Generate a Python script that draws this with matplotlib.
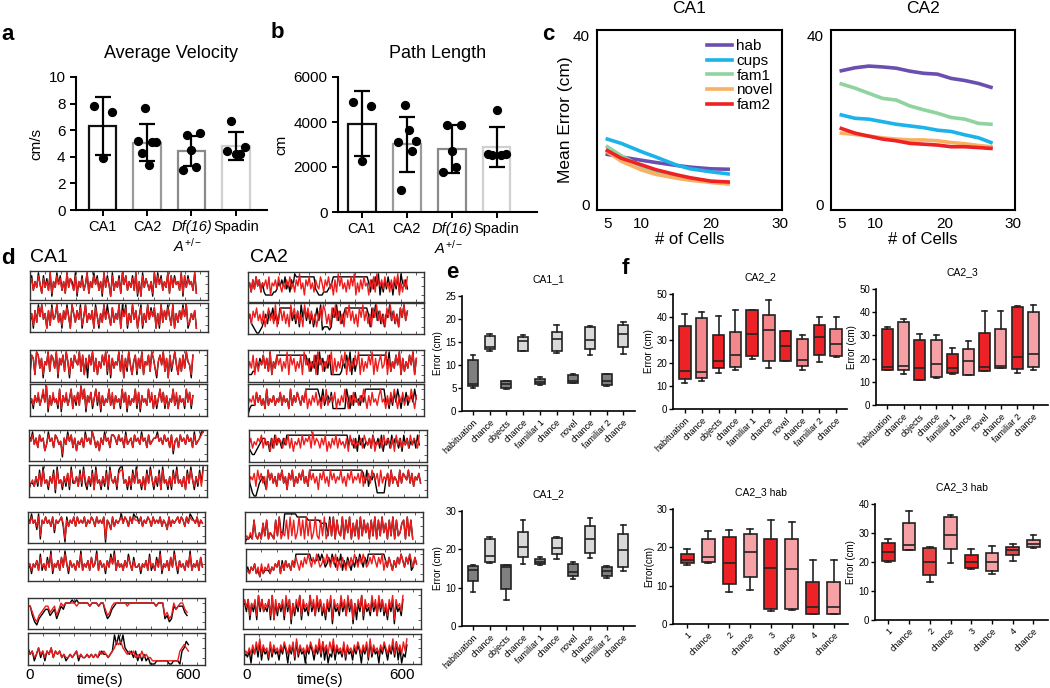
import numpy as np
import matplotlib
matplotlib.use('Agg')
import matplotlib.pyplot as plt

plt.rcParams['font.family'] = ['Liberation Sans', 'DejaVu Sans']
plt.rcParams['mathtext.fontset'] = 'custom'
plt.rcParams['mathtext.it'] = 'Liberation Sans:italic'
plt.rcParams['mathtext.rm'] = 'Liberation Sans'

# ---------------- data ----------------
groups = ['CA1', 'CA2', 'Df(16)', 'Spadin']
group_edge = ['#111111', '#9a9a9a', '#8a8a8a', '#d0d0d0']

vel_mean = [6.3, 5.05, 4.45, 4.8]
vel_sd = [2.2, 1.4, 1.15, 1.05]
vel_points = [[7.8, 3.9, 7.4], [5.2, 4.3, 7.7, 3.4, 5.1, 5.1],
              [3.0, 5.65, 4.5, 3.2, 5.8], [4.4, 6.7, 4.2, 4.2, 4.7]]

path_mean = [3926, 3007, 2785, 2889]
path_sd = [1440, 1220, 1060, 880]
path_points = [[4890, 2270, 4700], [3100, 1000, 4740, 3650, 2700, 3150],
               [1780, 3850, 2700, 2000, 3850], [2600, 2520, 4520, 2520, 2600]]

cells_ca1 = [5, 7, 10, 12, 15, 17, 20, 22.5]
cells_ca2 = [5, 7, 9, 11, 13, 15, 17, 19, 21, 23, 25, 26.8]
conds = ['hab', 'cups', 'fam1', 'novel', 'fam2']
cond_colors = ['#6a4fb0', '#1cb3ea', '#8fd3a0', '#f8b062', '#ec2224']
err_ca1 = {
    'hab':   [11.9, 11.3, 10.5, 10.0, 9.3, 8.9, 8.5, 8.4],
    'cups':  [15.5, 14.5, 12.5, 11.3, 9.4, 8.5, 7.8, 7.3],
    'fam1':  [13.7, 11.6, 9.0, 8.0, 6.7, 6.1, 5.5, 5.1],
    'novel': [12.5, 10.3, 8.2, 7.2, 6.3, 5.8, 5.3, 4.9],
    'fam2':  [12.8, 11.0, 9.4, 8.3, 7.1, 6.4, 5.6, 5.4],
}
err_ca2 = {
    'hab':   [31.6, 32.3, 32.7, 32.5, 32.2, 31.5, 31.0, 30.8, 29.8, 29.3, 28.6, 27.7],
    'cups':  [21.2, 20.4, 20.2, 19.6, 19.0, 18.6, 18.2, 17.6, 17.3, 16.5, 15.8, 14.7],
    'fam1':  [28.5, 27.5, 26.3, 25.1, 24.7, 23.3, 22.4, 21.6, 20.6, 20.2, 19.2, 19.0],
    'novel': [16.9, 16.6, 16.2, 15.8, 15.5, 15.3, 15.3, 15.1, 14.7, 14.4, 14.0, 13.7],
    'fam2':  [18.0, 16.9, 16.2, 15.5, 15.1, 14.5, 14.3, 14.1, 13.7, 13.7, 13.5, 13.3],
}

# decoded (red) vs actual (black) position traces, one digit per sample (0-9)
ca1_red = [
    "5736485274639264857362947538264735926485736294751836472958364739261847536294857364928475639284756392",
    "4627385946172845936274851963748259364718526394752836491758263947158263947581629374852916374859236471",
    "3872984726593874927583962748659382748593726485938274659381749526837492658397426859371846952738496528",
    "4536473584926374538264735826473958264735847263548372645384726354837264538472635847362548372645384736",
    "7685748673586748756275868473657486759746375867488758674856748675867485677867586748367486758674856789",
    "3453647384536472845364738546374853647284536473854637884536374845362748536472845363748453627485364738",
    "7686758276867584767861757685867685768758676817648576786875868776857687586768576485767868758687768576",
    "4535463745364835463748536453648354637458364536475836453647536445354637453648354637485364536483546374",
    "7753245677567468788888788888788878864578888887888888888888788845348678865",
    "43423534243524342322323423223232324343234576754343423242322111111111111145654",
]
ca1_black = [
    "5836495284739164958362947639164835926495836194851936482958364839161947536194958364928485639184856392",
    "3617395946172945936174951963749159364719516394952836491959163947159163948581619374952916374959136471",
    "2872984716593874917583961748659382718593726485928174659381739526827492658397416859371836952738496518",
    "3526463574916364528164635826373958164725837163548362645284716354827164538462625847262548362645284726",
    "8695748673596748756175968473657496759746375967488758674956748675967485677967586748267486758674956799",
    "2443638394526481945263729446383942638294526382954628994526284945262849526382945262849453628495263849",
    "8696749176867583767850857685867685768758676807648576796875869886857687586768576485767868758698768576",
    "3525463835374925463749526453649354637459364526485936453648537445254638353749254637495264536493546374",
    "7742134566456357688898988888788878853467888888888888888888788834237677754",
    "53413524143524342312323413223232323433234969695434241313120001111110011104576",
]
ca1_end = [645, 645, 635, 635, 675, 675, 680, 680, 620, 625]

ca2_red = [
    "5637485736574826574853647584637594627584637548637584627395846374859263748562748396574856374859263748",
    "4637584637258463925847362958473629584736258497362859473628594736285947362859473628594736285947",
    "3648273658473926485736492857364829573648295736485927364859273648592736485927368459273648592736485927",
    "3546374635283546354736452836475364825364735264835647253648526374536485263745368452637485264735648526",
    "5746576847563748576475847365748576849576475836475847564738574657486574836574857647385746574857648",
    "4657385746285746375846275836475846385746275846385746584637584657483657486573846573846538476584736574",
    "1213172131627132172813271827138271827138217281372817328173816271827361728172836172817236718271",
    "2324352415243524354625364536475364758647586457586475836475364758647586457586475836475364758647586475",
    "6757365738574657382746573857264758375648573857463758275648573857264758375648573857463758275648",
    "3435363748364527364536475364728364536475364837463748364537264536475364728364536475364837463748",
]
ca2_black = [
    "5637485736322222334657584637598888888888884322233345688888888888888888888886374859263748562748396574",
    "4632100124637584638888888463729584736258491222128594736888888888888862859473626594736285947",
    "2223364758473926488888888888888888857364829573648222222364859273688888888888888888593648592736485927",
    "0233374635283546354736452836475364888888886483564722222222852637453648888888888884526374852647356485",
    "4322345677563748576475888888888888888888888888888888888888576473857465748657483657485764738574657485",
    "5310024564285746375846275836475846388888888888888888888888888888887483657411111573846538476584736574",
    "0112172131627132172833999999988888877777776666282817328173816271827361728172836172817236718271",
    "3424352314233324354626364536488888888866668686457586475836475364758647588888888886475364758647583475",
    "6647264628474547282636462747163648264538463747352647164537463747162648264537463747352647164537",
    "2324053627153416253415364053617253405364153627150326153426153415364053617253405364153627150326",
]
ca2_end = [625, 625, 660, 660, 660, 665, 650, 665, 620, 635]

task_labels = ['habituation', 'chance', 'objects', 'chance', 'familiar 1',
               'chance', 'novel', 'chance', 'familiar 2', 'chance']
hab_labels = ['1', 'chance', '2', 'chance', '3', 'chance', '4', 'chance']

# (whisker low, q1, median, q3, whisker high)
e1_stats = [(5.1, 5.4, 5.9, 11.0, 12.2), (13.0, 13.4, 14.0, 16.3, 16.7),
            (4.7, 5.1, 5.9, 6.5, 6.5), (13.0, 13.1, 15.2, 16.0, 16.5),
            (5.7, 5.9, 6.3, 7.0, 7.4), (12.7, 13.0, 15.6, 17.1, 18.6),
            (6.0, 6.1, 6.6, 7.8, 8.0), (12.2, 13.5, 15.4, 18.2, 18.4),
            (5.4, 5.6, 6.6, 8.0, 8.1), (12.4, 13.9, 16.7, 18.6, 19.3)]
e2_stats = [(9.0, 11.7, 14.6, 15.6, 15.8), (16.5, 16.8, 18.2, 22.6, 23.3),
            (6.7, 9.7, 15.4, 15.8, 15.9), (16.2, 18.0, 20.7, 24.6, 27.6),
            (16.0, 16.2, 16.8, 17.6, 18.0), (17.5, 18.8, 20.3, 22.9, 23.3),
            (12.2, 13.0, 14.0, 16.2, 16.7), (17.8, 19.0, 22.7, 26.2, 28.2),
            (12.5, 13.0, 14.3, 15.4, 15.6), (14.4, 15.5, 19.8, 23.9, 26.3)]
f1_stats = [(11.2, 13.0, 16.4, 36.1, 41.4), (12.3, 13.6, 16.0, 39.5, 42.1),
            (15.5, 18.0, 21.0, 32.2, 40.3), (16.8, 18.4, 23.6, 33.6, 43.0),
            (21.8, 22.9, 32.8, 43.0, 43.1), (18.0, 20.8, 34.5, 41.0, 47.3),
            (21.0, 21.0, 27.4, 33.8, 34.0), (16.9, 18.7, 21.5, 30.5, 32.2),
            (20.5, 23.3, 31.5, 36.5, 39.8), (22.8, 23.0, 28.3, 34.7, 40.0)]
f2_stats = [(15.0, 15.2, 16.5, 32.7, 33.5), (13.5, 15.3, 17.0, 35.6, 37.2),
            (10.7, 10.9, 16.0, 28.0, 30.7), (11.8, 12.2, 17.5, 28.0, 30.1),
            (13.4, 14.0, 16.0, 21.8, 24.7), (13.1, 13.1, 19.0, 24.0, 27.4),
            (14.5, 14.6, 16.5, 31.0, 40.5), (15.8, 16.0, 17.0, 32.7, 40.4),
            (13.7, 15.5, 20.8, 42.4, 42.8), (15.0, 16.3, 22.0, 40.3, 43.1)]
f3_stats = [(15.3, 15.9, 16.6, 18.2, 19.6), (15.8, 16.3, 17.4, 22.1, 24.3),
            (8.3, 10.5, 16.0, 22.8, 24.4), (8.8, 12.2, 18.8, 23.5, 24.7),
            (3.5, 3.8, 14.7, 22.2, 27.1), (3.6, 3.9, 14.3, 22.1, 26.5),
            (2.5, 2.6, 4.4, 11.0, 16.8), (2.5, 2.6, 4.4, 11.0, 16.8)]
f4_stats = [(19.9, 20.3, 23.3, 26.5, 28.0), (24.0, 24.2, 25.8, 33.3, 37.6),
            (13.2, 15.5, 19.9, 25.0, 25.1), (19.6, 24.5, 29.4, 35.4, 36.2),
            (17.5, 17.8, 20.1, 22.3, 24.4), (15.7, 16.9, 19.9, 23.2, 25.5),
            (20.5, 22.3, 24.0, 25.3, 26.1), (24.9, 25.2, 26.1, 27.6, 29.4)]

# ---------------- layout helpers ----------------
W, H = 1050, 688
fig = plt.figure(figsize=(W / 100, H / 100), dpi=100)


def rect(l, t, r, b):
    return [l / W, 1 - b / H, (r - l) / W, (b - t) / H]


def ftext(x, y, s, **kw):
    fig.text(x / W, 1 - y / H, s, **kw)


# ---------------- a / b : bar charts ----------------
def bar_panel(r, means, sds, points, ylim, yticks, title, ylabel, xlim):
    ax = fig.add_axes(rect(*r))
    x = np.arange(1, len(means) + 1)
    ax.bar(x, means, width=0.62, color='white', edgecolor=group_edge, linewidth=1.6, zorder=1)
    ax.errorbar(x, means, yerr=sds, fmt='none', ecolor='black', elinewidth=1.6,
                capsize=6, capthick=1.6, zorder=2)
    for xi, pts in zip(x, points):
        off = np.linspace(-0.2, 0.2, len(pts))
        ax.scatter(xi + off, pts, s=32, color='black', zorder=3)
    ax.set_xlim(*xlim)
    ax.set_ylim(*ylim)
    ax.set_yticks(yticks)
    ax.set_xticks(x)
    ax.set_xticklabels(groups, fontsize=10.5)
    ax.get_xticklabels()[2].set_style('italic')
    ax.annotate(r'$\mathit{A}^{+/-}$', xy=(3, 0), xycoords=('data', 'axes fraction'),
                xytext=(-13, -19), textcoords='offset points', ha='left', va='top',
                fontsize=10.5)
    ax.tick_params(axis='y', labelsize=11, length=4, width=1.4)
    ax.tick_params(axis='x', length=4, width=1.4)
    for s in ['top', 'right']:
        ax.spines[s].set_visible(False)
    for s in ['left', 'bottom']:
        ax.spines[s].set_linewidth(1.5)
    ax.set_title(title, fontsize=13, pad=14)
    ax.set_ylabel(ylabel, fontsize=11)
    return ax


bar_panel((76, 77, 267, 210), vel_mean, vel_sd, vel_points, (0, 10), range(0, 11, 2),
          'Average Velocity', 'cm/s', (0.4, 4.7))
bar_panel((338, 77, 537, 212), path_mean, path_sd, path_points, (0, 6000), range(0, 6001, 2000),
          'Path Length', 'cm', (0.47, 4.9))

# ---------------- c : decoding error vs cells ----------------
for r, cells, errs, title in [((597, 30, 782, 210), cells_ca1, err_ca1, 'CA1'),
                              ((831, 30, 1015, 210), cells_ca2, err_ca2, 'CA2')]:
    ax = fig.add_axes(rect(*r))
    for c, col in zip(conds, cond_colors):
        ax.plot(cells, errs[c], color=col, lw=2.6, label=c)
    ax.set_xlim(3.5, 30.3)
    ax.set_ylim(-1.2, 41.2)
    ax.set_xticks([5, 10, 20, 30])
    ax.set_yticks([0, 40])
    ax.tick_params(length=0, labelsize=11, pad=5)
    for s in ax.spines.values():
        s.set_linewidth(1.5)
    ax.set_title(title, fontsize=12.5, pad=12)
    ax.set_xlabel('# of Cells', fontsize=12, labelpad=1)
    if title == 'CA1':
        ax.set_ylabel('Mean Error (cm)', fontsize=12.5)
        ax.yaxis.set_label_coords(-0.13, 0.5)
        ax.legend(loc='upper right', frameon=False, fontsize=11, handlelength=1.6,
                  handletextpad=0.3, labelspacing=0.05, borderaxespad=0.2)

# ---------------- d : position traces ----------------
ca1_rows = [(30, 271, 208, 300), (30, 303, 208, 332), (30, 350, 207, 382), (30, 384, 207, 416),
            (29, 430, 207, 461), (29, 465, 207, 497), (28, 512, 205, 543), (28, 549, 205, 581),
            (28, 598, 205, 629), (28, 633, 205, 665)]
ca2_rows = [(248, 272, 424, 302), (248, 303, 424, 334), (248, 350, 424, 382), (248, 384, 424, 416),
            (249, 430, 427, 462), (249, 465, 427, 497), (245, 512, 423, 543), (246, 549, 423, 581),
            (243, 589, 421, 629), (244, 634, 421, 664)]

for rows, reds, blacks, ends in [(ca1_rows, ca1_red, ca1_black, ca1_end),
                                 (ca2_rows, ca2_red, ca2_black, ca2_end)]:
    for r, red, black, end in zip(rows, reds, blacks, ends):
        ax = fig.add_axes(rect(*r))
        yb = [int(ch) for ch in black]
        yr = [int(ch) for ch in red]
        ax.plot(np.linspace(0, end, len(yb)), yb, color='black', lw=1.0)
        ax.plot(np.linspace(0, end, len(yr)), yr, color='#ee1c1c', lw=1.0)
        ax.set_xlim(0, 690)
        ax.set_ylim(-0.3, 9.6)
        ax.set_xticks(np.arange(0, 690, 60))
        ax.set_yticks([2, 5, 8])
        ax.tick_params(direction='in', length=2, width=0.6, top=True, right=True,
                       left=False, labelbottom=False, labelleft=False, colors='#444444')
        for s in ax.spines.values():
            s.set_linewidth(1.0)
            s.set_color('#333333')

ftext(30, 675, '0', fontsize=11, ha='center', va='center')
ftext(188, 675, '600', fontsize=11, ha='center', va='center')
ftext(100, 680, 'time(s)', fontsize=11, ha='center', va='center')
ftext(247, 675, '0', fontsize=11, ha='center', va='center')
ftext(402, 675, '600', fontsize=11, ha='center', va='center')
ftext(320, 680, 'time(s)', fontsize=11, ha='center', va='center')
ftext(30, 258, 'CA1', fontsize=14, ha='left', va='center')
ftext(250, 258, 'CA2', fontsize=14, ha='left', va='center')


# ---------------- e / f : box plots ----------------
def box_panel(r, stats, labels, colors, ylim, yticks, title, ylabel, xlim, width):
    ax = fig.add_axes(rect(*r))
    bstats = [dict(whislo=s[0], q1=s[1], med=s[2], q3=s[3], whishi=s[4], fliers=[]) for s in stats]
    pos = np.arange(1, len(stats) + 1)
    bp = ax.bxp(bstats, positions=pos, widths=width, patch_artist=True, showfliers=False,
                boxprops=dict(linewidth=1.2, edgecolor='#222222'),
                medianprops=dict(color='#222222', linewidth=1.2),
                whiskerprops=dict(color='#222222', linewidth=1.2),
                capprops=dict(color='#222222', linewidth=1.2), capwidths=width * 0.45)
    for patch, col in zip(bp['boxes'], colors):
        patch.set_facecolor(col)
    ax.set_xlim(*xlim)
    ax.set_ylim(*ylim)
    ax.set_yticks(yticks)
    ax.set_xticks(pos)
    ax.set_xticklabels(labels, rotation=45, ha='right', rotation_mode='anchor', fontsize=6.5)
    ax.tick_params(axis='y', labelsize=7, length=3, width=1.0, pad=1)
    ax.tick_params(axis='x', length=3, width=1.0, pad=2)
    for s in ['top', 'right']:
        ax.spines[s].set_visible(False)
    for s in ['left', 'bottom']:
        ax.spines[s].set_linewidth(1.2)
    ax.set_title(title, fontsize=7.5, pad=10)
    ax.set_ylabel(ylabel, fontsize=7, labelpad=2)
    return ax


gray_cols = ['#7f7f7f', '#d9d9d9'] * 5
red_cols_a = ['#ec2227', '#f4878b'] * 5
red_cols_b = ['#ec2227', '#f6a1a6'] * 5
hab_cols_a = ['#ec2227', '#f6a1a6'] * 4
hab_cols_b = ['#ec2227', '#f6a1a6', '#e94547', '#f6a1a6', '#ec2227', '#f6a1a6', '#e94547', '#f6a1a6']

box_panel((462, 296, 635, 411), e1_stats, task_labels, gray_cols, (0, 25), range(0, 26, 5),
          'CA1_1', 'Error (cm)', (0.34, 10.7), 0.6)
box_panel((462, 511, 635, 626), e2_stats, task_labels, gray_cols, (0, 30), range(0, 31, 10),
          'CA1_2', 'Error (cm)', (0.34, 10.7), 0.6)
box_panel((673, 294, 847, 409), f1_stats, task_labels, red_cols_a, (0, 50), range(0, 51, 10),
          'CA2_2', 'Error (cm)', (0.29, 10.65), 0.68)
box_panel((876, 289, 1048, 405), f2_stats, task_labels, red_cols_b, (0, 50), range(0, 51, 10),
          'CA2_3', 'Error (cm)', (0.3, 10.9), 0.68)
box_panel((673, 509, 848, 624), f3_stats, hab_labels, hab_cols_a, (0, 30), range(0, 31, 10),
          'CA2_3 hab', 'Error(cm)', (0.33, 8.67), 0.62)
box_panel((875, 504, 1048, 620), f4_stats, hab_labels, hab_cols_b, (0, 40), range(0, 41, 10),
          'CA2_3 hab', 'Error (cm)', (0.36, 8.7), 0.62)

# panel letters
for x, y, s in [(8, 35, 'a'), (277, 33, 'b'), (548, 35, 'c'), (8, 258, 'd'),
                (452, 272, 'e'), (625, 268, 'f')]:
    ftext(x, y, s, fontsize=16, fontweight='bold', ha='center', va='center')

fig.savefig('out.png', dpi=100)
